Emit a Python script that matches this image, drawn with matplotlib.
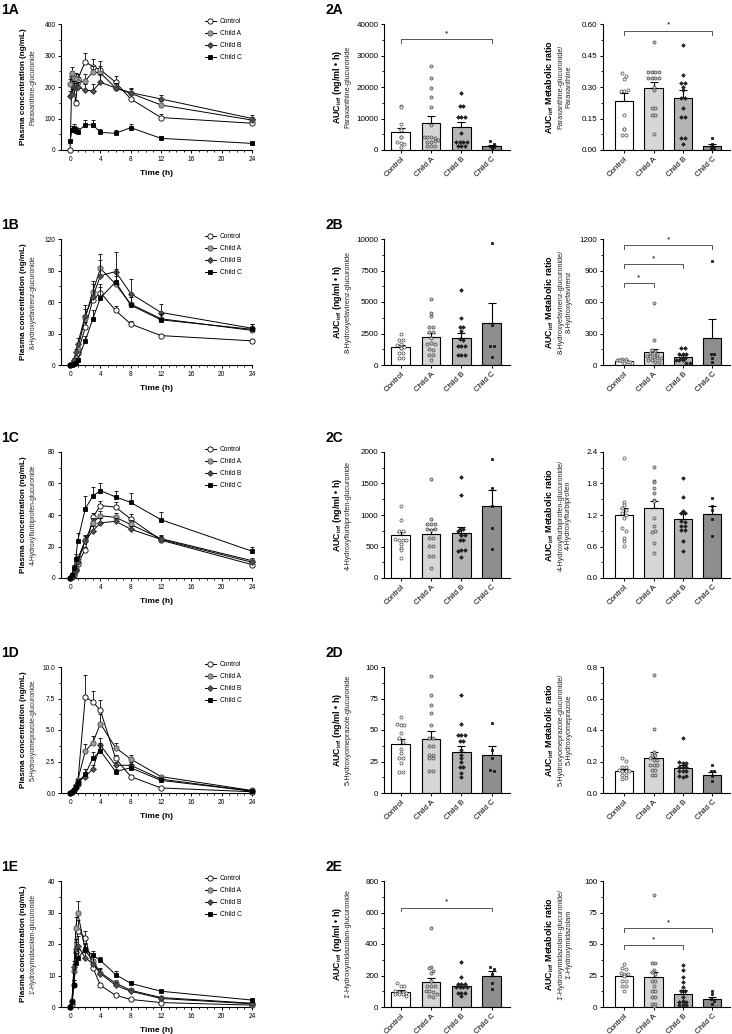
import numpy as np
import matplotlib
matplotlib.use('Agg')
import matplotlib.pyplot as plt
from matplotlib.lines import Line2D

plt.rcParams['font.family'] = ['Liberation Sans', 'DejaVu Sans']
plt.rcParams['mathtext.fontset'] = 'custom'
plt.rcParams['mathtext.rm'] = 'Liberation Sans'
plt.rcParams['mathtext.bf'] = 'Liberation Sans:bold'

groups = ['Control', 'Child A', 'Child B', 'Child C']
time_h = [0, 0.25, 0.5, 0.75, 1, 2, 3, 4, 6, 8, 12, 24]

# ---- plasma concentration curves (mean, SEM) ----
conc_1A = [[0, 235, 200, 148, 225, 280, 265, 255, 215, 162, 103, 85],
           [210, 243, 228, 225, 215, 220, 247, 245, 197, 180, 143, 95],
           [172, 178, 200, 196, 200, 190, 188, 215, 197, 182, 162, 100],
           [28, 64, 69, 61, 58, 80, 80, 56, 53, 71, 37, 21]]
sem_1A = [[0, 15, 14, 12, 15, 27, 25, 27, 20, 15, 10, 8],
          [15, 20, 18, 18, 17, 20, 20, 22, 15, 14, 12, 10],
          [15, 15, 18, 18, 17, 20, 22, 25, 15, 14, 14, 12],
          [8, 12, 13, 12, 12, 15, 15, 12, 12, 12, 8, 5]]
conc_1B = [[0, 0.5, 2, 4, 11, 36, 62, 69, 52, 39, 28, 23],
           [0, 1, 3, 7, 15, 45, 70, 92, 77, 58, 44, 33],
           [0, 1, 5, 12, 20, 47, 65, 85, 89, 68, 50, 35],
           [0, 0, 1, 2, 5, 23, 44, 64, 79, 57, 43, 34]]
sem_1B = [[0, 0.3, 0.5, 1, 2, 5, 5, 8, 4, 3, 2, 2],
          [0, 0.5, 1, 2, 4, 8, 10, 14, 8, 7, 6, 4],
          [0, 0.5, 2, 3, 6, 10, 12, 15, 19, 14, 8, 4],
          [0, 0, 0.5, 1, 2, 5, 8, 10, 12, 8, 6, 5]]
conc_1C = [[0, 0.5, 2, 5, 9, 18, 38.5, 46, 45, 37.5, 24, 8.5],
           [0, 1, 3, 6, 12, 24, 35, 39.5, 38.5, 34, 25, 11],
           [0, 1, 3, 5, 10, 23.5, 30, 35, 36, 31, 24.5, 10],
           [0, 2, 6.5, 12, 23.5, 44, 52, 55.5, 51.5, 48, 37, 17]]
sem_1C = [[0, 0.3, 0.5, 1, 1.5, 2, 3, 3, 3, 3, 2, 1],
          [0, 0.5, 1, 1.5, 2, 3, 3, 3, 3, 3, 2, 1.5],
          [0, 0.5, 1, 1.5, 2, 3, 3, 3, 2, 2, 2, 1],
          [0, 1, 2, 3, 5, 8, 6, 5, 4, 6, 5, 3]]
conc_1D = [[0, 0.05, 0.2, 0.5, 0.7, 7.6, 7.25, 6.55, 2.75, 1.3, 0.4, 0.1],
           [0, 0.05, 0.2, 0.5, 1.0, 3.3, 4.0, 5.5, 3.6, 2.7, 1.3, 0.2],
           [0, 0.05, 0.3, 0.6, 0.9, 1.3, 1.9, 3.8, 2.2, 2.2, 1.1, 0.15],
           [0, 0.05, 0.2, 0.5, 0.8, 1.5, 2.75, 3.35, 1.7, 2.0, 1.0, 0.15]]
sem_1D = [[0, 0, 0.05, 0.1, 0.2, 1.8, 0.85, 0.8, 0.3, 0.15, 0.08, 0.03],
          [0, 0, 0.05, 0.1, 0.2, 0.6, 0.5, 0.8, 0.4, 0.3, 0.15, 0.05],
          [0, 0, 0.05, 0.1, 0.2, 0.3, 0.3, 0.6, 0.3, 0.3, 0.15, 0.05],
          [0, 0, 0.05, 0.1, 0.2, 0.4, 0.5, 0.6, 0.2, 0.3, 0.15, 0.05]]
conc_1E = [[0, 1, 7, 17.5, 24, 22, 12.5, 6.9, 3.7, 2.4, 1.4, 0.6],
           [0, 2, 11.5, 25, 30, 18, 14.6, 10.9, 7.6, 5.3, 3, 1.2],
           [0, 2, 12.7, 18.5, 19.5, 15.6, 13.8, 10.6, 6.9, 5.0, 2.7, 1.0],
           [0, 1.6, 7, 14, 15.5, 18.3, 16.4, 14.8, 10.3, 7.5, 5.0, 2.2]]
sem_1E = [[0, 0.3, 1.5, 3, 3.5, 2, 1.5, 0.8, 0.5, 0.3, 0.2, 0.1],
          [0, 0.5, 2, 3.5, 3.5, 2, 2, 1.5, 1, 0.7, 0.4, 0.2],
          [0, 0.5, 2, 3, 3, 2, 2, 1.5, 1, 0.7, 0.4, 0.2],
          [0, 0.5, 1.5, 3, 3, 2, 1.5, 1.2, 1, 0.8, 0.5, 0.3]]

# ---- AUC bars: mean, SEM, individual values ----
auc_2A_mean = [5600, 8700, 7200, 1200]
auc_2A_sem = [1300, 2200, 1600, 500]
auc_2A_pts = [[14000, 13500, 8300, 6800, 6400, 4200, 4000, 2600, 2300, 1800, 1000],
              [26600, 22700, 19600, 16900, 13700, 7900, 4000, 4000, 4000, 3700, 3200, 2600, 2600, 2800, 1400, 1400, 1400],
              [18200, 14000, 14000, 10600, 10600, 10600, 5300, 2600, 2600, 2600, 2600, 1400, 1400, 1400],
              [2800, 1900, 1400, 1000, 500]]
auc_2B_mean = [1400, 2250, 2150, 3300]
auc_2B_sem = [150, 300, 400, 1650]
auc_2B_pts = [[2500, 1970, 1970, 1650, 1600, 1380, 1430, 1330, 990, 990, 530, 580],
              [5240, 3910, 4120, 3030, 3030, 2580, 2580, 2180, 1650, 1780, 1650, 1250, 1200, 800, 800, 370],
              [5980, 3720, 2980, 2980, 2710, 2050, 2000, 1520, 1520, 1520, 800, 800, 800],
              [9680, 3160, 1520, 1520, 660]]
auc_2C_mean = [675, 705, 720, 1140]
auc_2C_sem = [60, 80, 90, 260]
auc_2C_pts = [[1150, 915, 750, 740, 620, 610, 600, 600, 540, 470, 445, 325],
              [1565, 930, 850, 850, 850, 775, 760, 770, 640, 640, 510, 510, 350, 350, 165],
              [1600, 1310, 770, 770, 750, 690, 680, 690, 600, 600, 430, 440, 440, 335],
              [1895, 1435, 1140, 790, 455]]
auc_2D_mean = [38.5, 43, 32.5, 30]
auc_2D_sem = [4, 6, 5, 7]
auc_2D_pts = [[60.5, 54.5, 54, 54, 48, 43.4, 40.8, 35, 31.6, 27.6, 27.6, 23.7, 17, 16.6],
              [92.6, 78, 70, 63.7, 54, 43.4, 43.4, 37, 37, 30, 30, 27.6, 27.6, 17.6, 17.6],
              [78, 55, 46, 46, 46, 41, 41, 34, 30, 27.5, 25, 21, 21, 15.8, 13],
              [55.8, 34, 28, 18.4, 17.5]]
auc_2E_mean = [98, 157, 132, 200]
auc_2E_sem = [8, 28, 15, 30]
auc_2E_pts = [[150, 135, 133, 103, 98, 97, 92, 82, 81, 80, 72],
              [503, 254, 250, 230, 213, 166, 135, 134, 133, 103, 100, 98, 85, 70, 64],
              [288, 192, 145, 145, 145, 128, 128, 128, 128, 92, 92, 92, 70],
              [252, 241, 209, 154, 113]]

# ---- metabolic ratio bars ----
mr_2A_mean = [0.235, 0.295, 0.25, 0.02]
mr_2A_sem = [0.035, 0.03, 0.035, 0.01]
mr_2A_pts = [[0.368, 0.352, 0.34, 0.28, 0.28, 0.286, 0.167, 0.10, 0.098, 0.071, 0.071],
             [0.515, 0.37, 0.37, 0.37, 0.37, 0.345, 0.345, 0.345, 0.345, 0.30, 0.286, 0.198, 0.198, 0.167, 0.167, 0.075],
             [0.50, 0.357, 0.32, 0.32, 0.30, 0.285, 0.246, 0.246, 0.198, 0.159, 0.159, 0.055, 0.055, 0.03],
             [0.055, 0.028, 0.02, 0.008, 0.008]]
mr_2B_mean = [40, 120, 80, 255]
mr_2B_sem = [8, 30, 15, 185]
mr_2B_pts = [[60, 55, 50, 48, 45, 40, 38, 35, 30, 25, 20, 15],
             [588, 236, 140, 130, 112, 112, 100, 90, 86, 80, 70, 65, 50, 45, 32, 30],
             [166, 166, 102, 102, 102, 70, 70, 45, 45, 45, 22, 22],
             [990, 102, 102, 70, 32]]
mr_2C_mean = [1.2, 1.33, 1.13, 1.22]
mr_2C_sem = [0.13, 0.14, 0.1, 0.15]
mr_2C_pts = [[2.28, 1.45, 1.40, 1.33, 1.29, 1.24, 1.20, 1.15, 0.96, 0.90, 0.77, 0.70, 0.61],
             [2.11, 1.85, 1.83, 1.71, 1.61, 1.48, 1.47, 1.14, 0.99, 0.88, 0.89, 0.67, 0.48],
             [1.9, 1.55, 1.28, 1.24, 1.24, 1.08, 1.07, 1.0, 0.99, 0.91, 0.91, 0.7, 0.51],
             [1.52, 1.38, 1.30, 1.12, 0.80]]
mr_2D_mean = [0.14, 0.225, 0.16, 0.115]
mr_2D_sem = [0.01, 0.035, 0.02, 0.02]
mr_2D_pts = [[0.22, 0.205, 0.168, 0.162, 0.147, 0.137, 0.137, 0.137, 0.116, 0.116, 0.09, 0.095],
             [0.747, 0.404, 0.263, 0.242, 0.242, 0.221, 0.21, 0.21, 0.179, 0.175, 0.175, 0.147, 0.147, 0.116, 0.116],
             [0.352, 0.2, 0.19, 0.19, 0.168, 0.162, 0.162, 0.137, 0.137, 0.137, 0.105, 0.099, 0.105],
             [0.175, 0.137, 0.137, 0.105, 0.074]]
mr_2E_mean = [24.5, 23.5, 10.5, 6]
mr_2E_sem = [2, 4, 3, 2]
mr_2E_pts = [[34, 31, 30, 27, 26, 26, 25, 21, 21, 17, 17, 13],
             [88.6, 34.7, 34.7, 29, 28, 26, 21, 21, 17, 13, 12.6, 8, 8, 2.6, 2, 1],
             [33, 29, 24, 20, 16, 12.6, 12.6, 8, 4.7, 4, 4, 4, 1.3, 1.3, 1.3],
             [12.6, 10, 6, 4.5, 2.6]]

# significance brackets (group i, group j, height)
sig_auc = {'A': [(0, 3, 35100)], 'B': [], 'C': [], 'D': [], 'E': [(0, 3, 631)]}
sig_mr = {'A': [(0, 3, 0.568)], 'B': [(0, 1, 779), (0, 2, 958), (0, 3, 1140)],
          'C': [], 'D': [], 'E': [(0, 2, 49.2), (0, 3, 62.4)]}

compounds = ['Paraxanthine', '8-Hydroxyefavirenz', '4-Hydroxyflurbiprofen',
             '5-Hydroxyomeprazole', "1'-Hydroxymidazolam"]
letters = ['A', 'B', 'C', 'D', 'E']

conc_all = [conc_1A, conc_1B, conc_1C, conc_1D, conc_1E]
sem_all = [sem_1A, sem_1B, sem_1C, sem_1D, sem_1E]
conc_ticks = [([0, 100, 200, 300, 400], '{:.0f}'), ([0, 30, 60, 90, 120], '{:.0f}'),
              ([0, 20, 40, 60, 80], '{:.0f}'), ([0, 2.5, 5, 7.5, 10], '{:.1f}'),
              ([0, 10, 20, 30, 40], '{:.0f}')]
auc_all = [(auc_2A_mean, auc_2A_sem, auc_2A_pts), (auc_2B_mean, auc_2B_sem, auc_2B_pts),
           (auc_2C_mean, auc_2C_sem, auc_2C_pts), (auc_2D_mean, auc_2D_sem, auc_2D_pts),
           (auc_2E_mean, auc_2E_sem, auc_2E_pts)]
auc_ticks = [([0, 10000, 20000, 30000, 40000], '{:.0f}'), ([0, 2500, 5000, 7500, 10000], '{:.0f}'),
             ([0, 500, 1000, 1500, 2000], '{:.0f}'), ([0, 25, 50, 75, 100], '{:.0f}'),
             ([0, 200, 400, 600, 800], '{:.0f}')]
mr_all = [(mr_2A_mean, mr_2A_sem, mr_2A_pts), (mr_2B_mean, mr_2B_sem, mr_2B_pts),
          (mr_2C_mean, mr_2C_sem, mr_2C_pts), (mr_2D_mean, mr_2D_sem, mr_2D_pts),
          (mr_2E_mean, mr_2E_sem, mr_2E_pts)]
mr_ticks = [([0, 0.15, 0.30, 0.45, 0.60], '{:.2f}'), ([0, 300, 600, 900, 1200], '{:.0f}'),
            ([0, 0.6, 1.2, 1.8, 2.4], '{:.1f}'), ([0, 0.2, 0.4, 0.6, 0.8], '{:.1f}'),
            ([0, 25, 50, 75, 100], '{:.0f}')]

# styles
line_mk = ['o', 'o', 'D', 's']
line_fc = ['white', '#9a9a9a', '#505050', 'black']
line_ec = ['black', '#505050', '#303030', 'black']
line_ms = [3.8, 3.8, 3.0, 3.3]
bar_fc = ['white', '#d6d6d6', '#b5b5b5', '#8e8e8e']
pt_mk = ['o', 'o', 'D', 's']
pt_fc = ['white', '#c8c8c8', '#222222', '#111111']
pt_ec = ['#444444', '#444444', '#222222', '#111111']
pt_s = [5, 5, 3.5, 4]

W, H = 732, 1034
fig = plt.figure(figsize=(W / 100, H / 100), dpi=100)


def box(l, t, w, h):
    return [l / W, 1 - (t + h) / H, w / W, h / H]


def style(ax, fs):
    for s in ['top', 'right']:
        ax.spines[s].set_visible(False)
    for s in ['left', 'bottom']:
        ax.spines[s].set_linewidth(0.8)
    ax.tick_params(direction='out', length=2.5, width=0.7, labelsize=fs, pad=1.5)
    ax.tick_params(which='minor', direction='out', length=1.5, width=0.6)


def spread_x(vals, ymax, step=0.12, binfrac=0.03, maxw=0.5):
    vals = np.asarray(vals, float)
    bins = np.round(vals / (ymax * binfrac)).astype(int)
    xs = np.zeros(len(vals))
    for b in np.unique(bins):
        idx = np.where(bins == b)[0]
        k = len(idx)
        st = step if k < 2 else min(step, maxw / (k - 1))
        xs[idx] = (np.arange(k) - (k - 1) / 2) * st
    return xs


def ytick_setup(ax, ticks, fmt):
    ax.set_ylim(0, ticks[-1])
    ax.set_yticks(ticks)
    ax.set_yticklabels([fmt.format(t) if t != 0 or '.' in fmt else '0' for t in ticks])
    step = ticks[1] - ticks[0]
    ax.set_yticks(np.arange(0, ticks[-1] + step / 4, step / 2), minor=True)


def bar_panel(ax, means, sems, pts, ticks, fmt, sig, xlo):
    x = np.arange(4)
    ymax = ticks[-1]
    ax.bar(x, means, width=0.62, color=bar_fc, edgecolor='black', linewidth=0.8, zorder=1)
    ax.errorbar(x, means, yerr=[np.zeros(4), sems], fmt='none', ecolor='black',
                elinewidth=0.8, capsize=2.8, capthick=0.8, zorder=2)
    for i, p in enumerate(pts):
        ax.scatter(i + spread_x(p, ymax), p, s=pt_s[i], marker=pt_mk[i], facecolor=pt_fc[i],
                   edgecolor=pt_ec[i], linewidth=0.5, zorder=3, clip_on=False)
    for i, j, yb in sig:
        h = ymax * 0.03
        ax.plot([i, i, j, j], [yb - h, yb, yb, yb - h], color='#555555', lw=0.7, clip_on=False)
        ax.text((i + j) / 2, yb + ymax * 0.015, '*', ha='center', va='bottom', fontsize=6)
    style(ax, 5.8)
    ytick_setup(ax, ticks, fmt)
    ax.set_xlim(xlo, 3.6)
    ax.set_xticks(x)
    ax.set_xticklabels(groups, rotation=45, ha='right', rotation_mode='anchor', fontsize=5.7)


row_tops = [24, 239, 452, 667, 881]
ph = 126

for r in range(5):
    top = row_tops[r]
    cy = 1 - (top + ph / 2) / H
    comp = compounds[r]

    # time course
    ax = fig.add_axes(box(61, top, 191, ph))
    zeros = np.zeros(len(time_h))
    for g in range(4):
        cont = ax.errorbar(time_h, conc_all[r][g], yerr=[zeros, sem_all[r][g]], fmt='-',
                           color='black', lw=0.7, marker=line_mk[g], ms=line_ms[g],
                           mfc=line_fc[g], mec=line_ec[g], mew=0.6, ecolor='black',
                           elinewidth=0.6, capsize=1.5, capthick=0.6, zorder=3 + g)
        for art in cont.get_children():
            art.set_clip_on(False)
    style(ax, 4.8)
    ax.set_xlim(-1.2, 24)
    ax.set_xticks([0, 4, 8, 12, 16, 20, 24])
    ax.set_xticks(np.arange(0, 25, 1), minor=True)
    ytick_setup(ax, *conc_ticks[r])
    ax.set_xlabel('Time (h)', fontsize=6, fontweight='bold', labelpad=5.5)
    handles = [Line2D([0], [0], color='black', lw=0.7, marker=line_mk[g], ms=line_ms[g],
                      mfc=line_fc[g], mec=line_ec[g], mew=0.6) for g in range(4)]
    ax.legend(handles, groups, loc='upper left', bbox_to_anchor=(0.74, 1.07), frameon=False,
              fontsize=4.8, handlelength=1.6, labelspacing=0.75, handletextpad=0.6, borderaxespad=0)
    fig.text(24 / W, cy, 'Plasma concentration (ng/mL)', rotation=90, ha='center', va='center',
             fontsize=5.9, fontweight='bold')
    fig.text(33 / W, cy, comp + '-glucuronide', rotation=90, ha='center', va='center',
             fontsize=4.8, color='#222222')
    fig.text(1 / W, 1 - (top - 21) / H, '1' + letters[r], ha='left', va='top',
             fontsize=10, fontweight='bold')

    # AUC bars
    ax2 = fig.add_axes(box(384, top, 126, ph))
    m, s, p = auc_all[r]
    bar_panel(ax2, m, s, p, *auc_ticks[r], sig_auc[letters[r]], -0.55)
    fig.text(338 / W, cy, r'$\mathbf{AUC_{inf}}$ (ng/ml • h)', rotation=90, ha='center',
             va='center', fontsize=6.4, fontweight='bold')
    fig.text(348 / W, cy, comp + '-glucuronide', rotation=90, ha='center', va='center',
             fontsize=5.2, color='#222222')
    fig.text(325 / W, 1 - (top - 21) / H, '2' + letters[r], ha='left', va='top',
             fontsize=10, fontweight='bold')

    # metabolic ratio bars
    ax3 = fig.add_axes(box(603, top, 127, ph))
    m, s, p = mr_all[r]
    bar_panel(ax3, m, s, p, *mr_ticks[r], sig_mr[letters[r]], -0.72)
    fig.text(550 / W, cy, r'$\mathbf{AUC_{inf}}$ Metabolic ratio', rotation=90, ha='center',
             va='center', fontsize=6.4, fontweight='bold')
    fig.text(565 / W, cy, comp + '-glucuronide/\n' + comp, rotation=90, ha='center',
             va='center', fontsize=5.2, color='#222222', multialignment='center',
             linespacing=1.1)

fig.savefig('out.png', dpi=100)
